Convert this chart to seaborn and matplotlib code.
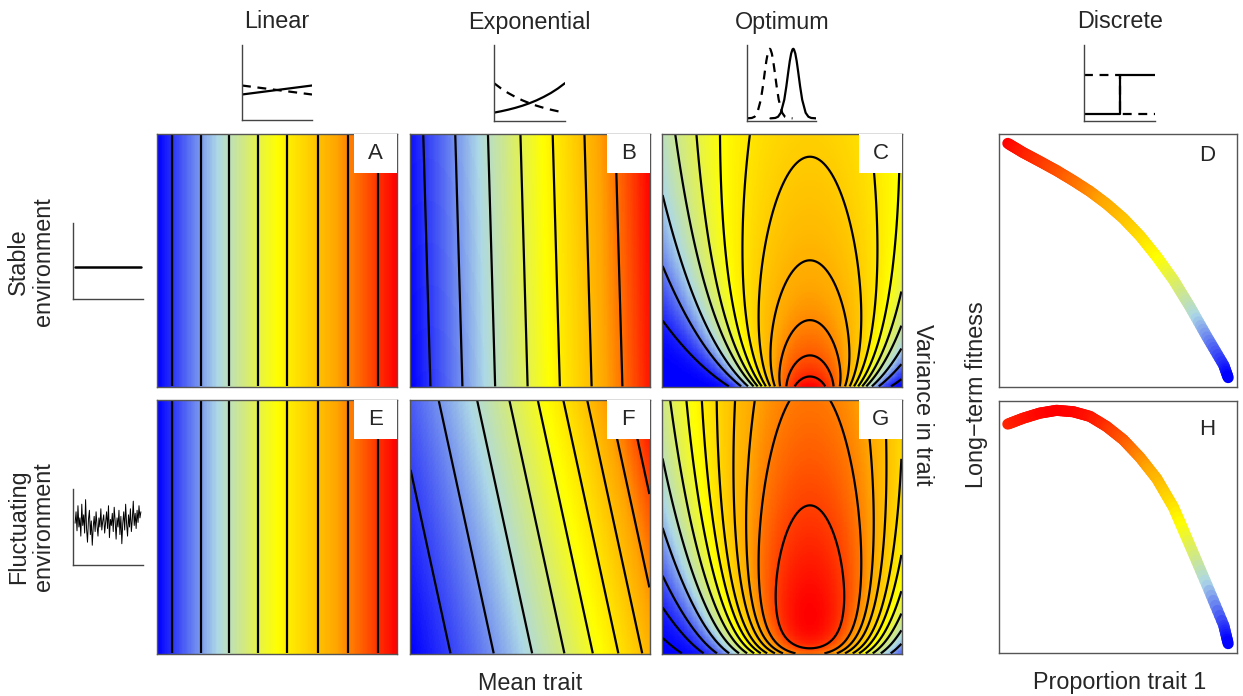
import numpy as np
import seaborn as sns
import matplotlib.pyplot as plt
from matplotlib.colors import LinearSegmentedColormap
from matplotlib.collections import LineCollection
from matplotlib.patches import Rectangle

sns.set_theme(style="white")
plt.rcParams['font.family'] = ['Liberation Sans', 'DejaVu Sans']

# ---- data ----
col_titles = ["Linear", "Exponential", "Optimum", "Discrete"]
row_titles = ["Stable\nenvironment", "Fluctuating\nenvironment"]

# linear landscapes: contour positions along the mean trait axis
lin_stable_pos = [0.06, 0.183, 0.30, 0.42, 0.54, 0.67, 0.796, 0.925]
lin_fluct_pos = [0.06, 0.183, 0.30, 0.42, 0.54, 0.67, 0.796, 0.925]

# exponential landscapes: exp(rate * (mean + tilt * variance)),
# contour positions read at the bottom edge
exp_stable_rate, exp_stable_tilt = 0.5, 0.03
exp_stable_pos = [0.083, 0.217, 0.354, 0.49, 0.625, 0.758, 0.887]
exp_fluct_rate, exp_fluct_tilt = 1.0, 0.23
exp_fluct_pos = [0.167, 0.348, 0.509, 0.644, 0.763, 0.87, 0.97, 1.06, 1.145, 1.215]

# optimum landscapes (log long-term fitness)
opt_centre = 0.617
opt_width2 = 0.093
opt_scale2 = 8.0
opt_stable_floor = 0.05
opt_stable_levels = [-0.118, -0.348, -0.578, -0.808, -1.038, -1.268, -1.498,
                     -1.728, -1.958, -2.25, -2.55, -2.865]
opt_fluct_floor = 0.09
opt_fluct_var = 0.243
opt_fluct_spread = 0.15
opt_fluct_levels = [-0.089, -0.262, -0.392, -0.516, -0.662, -0.799, -0.957,
                    -1.136, -1.35, -1.61, -1.9, -2.14, -2.34]

# discrete: long-term fitness vs proportion of trait 1
prop = [0.0, 0.069, 0.145, 0.221, 0.297, 0.373, 0.448, 0.524, 0.60,
        0.676, 0.752, 0.827, 0.904, 0.98, 1.0]
fit_stable = [1.0, 0.961, 0.923, 0.884, 0.841, 0.795, 0.742, 0.68, 0.605,
              0.516, 0.417, 0.302, 0.174, 0.053, 0.0]
fit_fluct = [0.944, 0.969, 0.991, 1.003, 0.997, 0.977, 0.934, 0.877, 0.801,
             0.71, 0.587, 0.423, 0.253, 0.081, 0.003]

# small schematic insets
lin_x = [0, 1]
lin_solid = [0.34, 0.46]
lin_dash = [0.46, 0.34]
exp_x = [0, .1, .2, .3, .4, .5, .6, .7, .8, .9, 1.0]
exp_solid = [0.11, 0.128, 0.149, 0.173, 0.201, 0.234, 0.272, 0.317, 0.368, 0.428, 0.498]
exp_dash = exp_solid[::-1]
opt_dx = [-0.33, -0.26, -0.22, -0.18, -0.13, -0.10, -0.07, -0.05, -0.03, -0.01, 0.0,
          0.01, 0.03, 0.05, 0.07, 0.10, 0.13, 0.18, 0.22, 0.26, 0.33]
opt_peak = [0.035, 0.04, 0.056, 0.108, 0.279, 0.454, 0.659, 0.788, 0.888, 0.943, 0.95,
            0.943, 0.888, 0.788, 0.659, 0.454, 0.279, 0.108, 0.056, 0.04, 0.035]
disc_x = [0, 0.5, 0.5, 1]
disc_solid = [0.09, 0.09, 0.6, 0.6]
disc_dash = [0.6, 0.6, 0.09, 0.09]
stable_env = [0.42, 0.42]
fluct_env = [0.55, 0.7, 0.45, 0.78, 0.5, 0.62, 0.38, 0.8, 0.52, 0.66, 0.42, 0.86,
             0.48, 0.3, 0.6, 0.72, 0.4, 0.58, 0.26, 0.5, 0.64, 0.44, 0.7, 0.52,
             0.38, 0.62, 0.5, 0.74, 0.46, 0.58, 0.66, 0.42, 0.56, 0.7, 0.48, 0.78,
             0.36, 0.6, 0.52, 0.68, 0.44, 0.76, 0.58, 0.34, 0.62, 0.5, 0.72, 0.4,
             0.64, 0.28, 0.55, 0.7, 0.46, 0.8, 0.54, 0.38, 0.66, 0.5, 0.74, 0.44,
             0.6, 0.84, 0.52, 0.68, 0.48, 0.72, 0.56, 0.78, 0.62, 0.7]

# ---- figure ----
W, H = 1243, 696
fig = plt.figure(figsize=(W / 100, H / 100), dpi=100)
cmap = LinearSegmentedColormap.from_list("fit", ["blue", "lightblue", "yellow", "orange", "red"])
frame = "#555555"
FS = 16.8


def box(x0, y0, x1, y1):
    return fig.add_axes([x0 / W, 1 - y1 / H, (x1 - x0) / W, (y1 - y0) / H])


def label(ax, txt, boxed=True, xy=(0.91, 0.92)):
    if boxed:
        ax.add_patch(Rectangle((1 - 0.18, 1 - 0.155), 0.18, 0.155, transform=ax.transAxes,
                               fc="white", ec="none", zorder=5))
        ax.text(1 - 0.09, 1 - 0.0775, txt, transform=ax.transAxes, ha="center",
                va="center", fontsize=16, zorder=6)
    else:
        ax.text(xy[0], xy[1], txt, transform=ax.transAxes, ha="center", va="center",
                fontsize=16)


def framed(ax):
    for s in ax.spines.values():
        s.set_visible(True)
        s.set_color(frame)
        s.set_linewidth(1.0)
    ax.set_xticks([])
    ax.set_yticks([])
    ax.set_xlabel("")
    ax.set_ylabel("")


n = 200
xs = np.linspace(0, 1, n)
ys = np.linspace(1, 0, n)          # row 0 = top (high variance)
X, Y = np.meshgrid(xs, ys)
idx = np.arange(n) + 0.5


def landscape(ax, field, levels, lo, hi, gamma=1.0):
    shade = np.clip((field - lo) / (hi - lo), 0, 1) ** gamma
    sns.heatmap(shade, ax=ax, cmap=cmap, vmin=0, vmax=1, cbar=False,
                xticklabels=False, yticklabels=False)
    ax.contour(idx, idx, field, levels=sorted(levels), colors="black",
               linewidths=1.6, linestyles="solid")
    framed(ax)


# linear
ax = box(157, 134, 397, 387)
landscape(ax, X, lin_stable_pos, 0, 1)
label(ax, "A")
ax = box(157, 400, 397, 654)
landscape(ax, X, lin_fluct_pos, 0, 1)
label(ax, "E")

# exponential
f = np.exp(exp_stable_rate * (X + exp_stable_tilt * Y))
ax = box(410, 134, 650, 387)
landscape(ax, f, np.exp(exp_stable_rate * np.array(exp_stable_pos)), f.min(), f.max())
label(ax, "B")
f = np.exp(exp_fluct_rate * (X + exp_fluct_tilt * Y))
ax = box(410, 400, 650, 654)
landscape(ax, f, np.exp(exp_fluct_rate * np.array(exp_fluct_pos)), f.min(), f.max())
label(ax, "F")

# optimum
s = opt_width2 + Y
d2 = opt_scale2 * (X - opt_centre) ** 2
c = opt_stable_floor
f = np.log(c + np.sqrt(opt_width2 / s) * np.exp(-d2 / (2 * s)))
ax = box(662, 134, 902, 387)
landscape(ax, f, opt_stable_levels, np.log(c), np.log(1 + c))
label(ax, "C")
v, c = opt_fluct_var, opt_fluct_floor
f = np.log(c + np.sqrt(v / s) * np.exp(0.5 - v / (2 * s))
           * np.exp(-d2 / (2 * (s + opt_fluct_spread))))
ax = box(662, 400, 902, 654)
landscape(ax, f, opt_fluct_levels, np.log(c), np.log(1 + c), gamma=1.4)
label(ax, "G")


# discrete: gradient-coloured curves
def fitness_curve(ax, px, fy, txt, txt_y):
    px, fy = np.asarray(px), np.asarray(fy)
    pts, cols = [], []
    cn = (fy - fy.min()) / (fy.max() - fy.min())
    steps = np.linspace(0, 1, 9)
    for i in range(len(px) - 1):
        for t0, t1 in zip(steps[:-1], steps[1:]):
            a = (px[i] + t0 * (px[i + 1] - px[i]), fy[i] + t0 * (fy[i + 1] - fy[i]))
            b = (px[i] + t1 * (px[i + 1] - px[i]), fy[i] + t1 * (fy[i + 1] - fy[i]))
            pts.append([a, b])
            cols.append(cmap(cn[i] + 0.5 * (t0 + t1) * (cn[i + 1] - cn[i])))
    lc = LineCollection(pts, colors=cols, linewidths=8, capstyle="round", joinstyle="round")
    ax.add_collection(lc)
    pad = 0.04 * (fy.max() - fy.min())
    ax.set_xlim(-0.04, 1.04)
    ax.set_ylim(fy.min() - pad, fy.max() + pad)
    framed(ax)
    label(ax, txt, boxed=False, xy=(0.875, txt_y))


ax = box(999, 134, 1237, 387)
fitness_curve(ax, prop, fit_stable, "D", 0.915)
ax = box(999, 401, 1237, 653)
fitness_curve(ax, prop, fit_fluct, "H", 0.885)


# schematic insets
def inset(x0, y0, x1, y1):
    a = box(x0, y0, x1, y1)
    a.set_xlim(0, 1)
    a.set_ylim(0, 1)
    sns.despine(ax=a)
    for sp in ("left", "bottom"):
        a.spines[sp].set_color("#444444")
        a.spines[sp].set_linewidth(1.0)
    a.set_xticks([])
    a.set_yticks([])
    return a


dash = (0, (4, 3))
kw = dict(color="black", lw=1.6, estimator=None, sort=False)
a = inset(242, 45, 312, 120)
sns.lineplot(x=lin_x, y=lin_solid, ax=a, **kw)
sns.lineplot(x=lin_x, y=lin_dash, ax=a, linestyle=dash, **kw)
a = inset(494, 45, 565, 121)
sns.lineplot(x=exp_x, y=exp_solid, ax=a, **kw)
sns.lineplot(x=exp_x, y=exp_dash, ax=a, linestyle=dash, **kw)
a = inset(747, 45, 816, 121)
sns.lineplot(x=[0.33 + d for d in opt_dx], y=opt_peak, ax=a, linestyle=dash, **kw)
sns.lineplot(x=[0.67 + d for d in opt_dx], y=opt_peak, ax=a, **kw)
a = inset(1084, 45, 1155, 121)
sns.lineplot(x=disc_x, y=disc_solid, ax=a, **kw)
sns.lineplot(x=disc_x, y=disc_dash, ax=a, linestyle=dash, **kw)
a = inset(73, 223, 143, 299)
sns.lineplot(x=[0.03, 0.97], y=stable_env, ax=a, color="black", lw=1.8,
             estimator=None, sort=False)
a = inset(73, 489, 143, 565)
sns.lineplot(x=np.linspace(0.03, 0.97, len(fluct_env)), y=fluct_env, ax=a,
             color="black", lw=0.7, estimator=None, sort=False)


def ftext(x, y, s, **kw):
    fig.text(x / W, 1 - y / H, s, ha="center", va="center", fontsize=FS, **kw)


for xc, t in zip([277, 529, 782, 1120], col_titles):
    ftext(xc, 22, t)
ftext(31, 262, row_titles[0], rotation=90, linespacing=1.1)
ftext(31, 527, row_titles[1], rotation=90, linespacing=1.1)
ftext(530, 683, "Mean trait")
ftext(1120, 683, "Proportion trait 1")
ftext(922, 405, "Variance in trait", rotation=270)
ftext(977, 395, "Long\u2212term fitness", rotation=90)

fig.savefig("out.png", dpi=100)
